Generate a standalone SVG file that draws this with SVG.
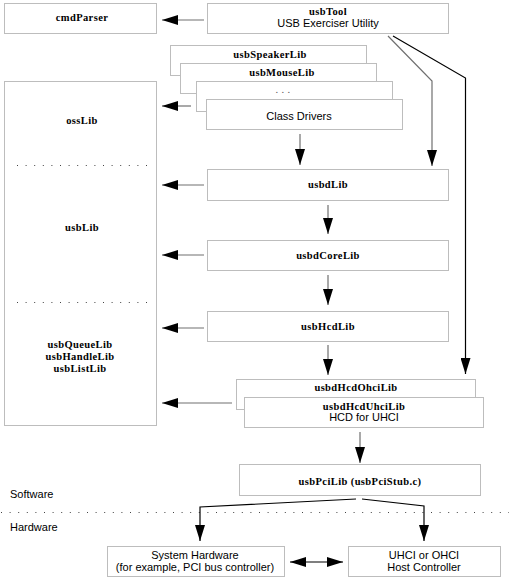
<svg xmlns="http://www.w3.org/2000/svg" width="509" height="584" viewBox="0 0 509 584">
<style>
.box{fill:#fff;stroke:#bdbdbd;stroke-width:1}
.b{font-family:"Liberation Serif",serif;font-weight:bold;font-size:10.5px;letter-spacing:0.4px;text-anchor:middle;fill:#000}
.s{font-family:"Liberation Sans",Arial,sans-serif;font-size:11px;text-anchor:middle;fill:#000}
.sl{font-family:"Liberation Sans",Arial,sans-serif;font-size:11px;fill:#000}
.c{fill:none;stroke:#707070;stroke-width:1.2}
.k{fill:none;stroke:#000;stroke-width:1.2}
.dot{fill:none;stroke:#444;stroke-width:1;stroke-dasharray:1 7.6}
</style>
<defs>
<marker id="ah" markerUnits="userSpaceOnUse" markerWidth="16" markerHeight="10" refX="16" refY="5" orient="auto-start-reverse" viewBox="0 0 16 10">
<path d="M0,0 L16,5 L0,10 z" fill="#000"/>
</marker>
</defs>
<rect width="509" height="584" fill="#fff"/>

<g id="cmdParser"><rect class="box" x="4.5" y="3.5" width="152" height="30"/><text class="b" x="82" y="21">cmdParser</text></g>
<g id="usbTool"><rect class="box" x="207.5" y="3.5" width="241" height="30"/><text class="b" x="328" y="15">usbTool</text><text class="s" x="328" y="27">USB Exerciser Utility</text></g>

<g id="leftLibs"><rect class="box" x="4.5" y="81.5" width="152" height="344"/>
<text class="b" x="82" y="124">ossLib</text>
<line class="dot" x1="17" y1="165.5" x2="148" y2="165.5"/>
<text class="b" x="82" y="231">usbLib</text>
<line class="dot" x1="17" y1="302.5" x2="148" y2="302.5"/>
<text class="b" x="80" y="348">usbQueueLib</text>
<text class="b" x="80" y="360">usbHandleLib</text>
<text class="b" x="80" y="372">usbListLib</text>
</g>

<g id="usbSpeakerLib"><rect class="box" x="170.5" y="45.5" width="196" height="30"/><text class="b" x="270" y="58">usbSpeakerLib</text></g>
<g id="usbMouseLib"><rect class="box" x="180.5" y="63.5" width="196" height="30"/><text class="b" x="282" y="76">usbMouseLib</text></g>
<g id="dotsLib"><rect class="box" x="196.5" y="81.5" width="196" height="30"/><text class="b" x="283" y="93" style="font-weight:normal;fill:#555">. . .</text></g>
<g id="classDrivers"><rect class="box" x="206.5" y="99.5" width="196" height="30"/><text class="s" x="299" y="120">Class Drivers</text></g>

<g id="usbdLib"><rect class="box" x="207.5" y="169.5" width="241" height="31"/><text class="b" x="328" y="188">usbdLib</text></g>
<g id="usbdCoreLib"><rect class="box" x="207.5" y="240.5" width="241" height="30"/><text class="b" x="328" y="259">usbdCoreLib</text></g>
<g id="usbHcdLib"><rect class="box" x="207.5" y="311.5" width="241" height="30"/><text class="b" x="328" y="330">usbHcdLib</text></g>
<g id="usbdHcdOhciLib"><rect class="box" x="236.5" y="379.5" width="239" height="30"/><text class="b" x="356" y="391">usbdHcdOhciLib</text></g>
<g id="usbdHcdUhciLib"><rect class="box" x="244.5" y="397.5" width="239" height="30"/><text class="b" x="364" y="410">usbdHcdUhciLib</text><text class="s" x="364" y="421">HCD for UHCI</text></g>
<g id="usbPciLib"><rect class="box" x="239.5" y="464.5" width="241" height="31"/><text class="b" x="360" y="485">usbPciLib (usbPciStub.c)</text></g>

<g id="labels"><text class="sl" x="10" y="498">Software</text><line class="dot" x1="1" y1="512.5" x2="509" y2="512.5"/><text class="sl" x="10" y="531">Hardware</text></g>

<g id="systemHardware"><rect class="box" x="107.5" y="546.5" width="177" height="30"/><text class="s" x="195" y="559">System Hardware</text><text class="s" x="195" y="571">(for example, PCI bus controller)</text></g>
<g id="hostController"><rect class="box" x="348.5" y="546.5" width="152" height="30"/><text class="s" x="424" y="559">UHCI or OHCI</text><text class="s" x="424" y="571">Host Controller</text></g>

<g id="connectors">
<line class="c" x1="204" y1="20" x2="162" y2="20" marker-end="url(#ah)"/>
<line class="c" x1="191" y1="106" x2="162" y2="106" marker-end="url(#ah)"/>
<line class="c" x1="204" y1="185" x2="162" y2="185" marker-end="url(#ah)"/>
<line class="c" x1="204" y1="255" x2="162" y2="255" marker-end="url(#ah)"/>
<line class="c" x1="204" y1="328" x2="162" y2="328" marker-end="url(#ah)"/>
<line class="c" x1="232" y1="403" x2="162" y2="403" marker-end="url(#ah)"/>
<line class="c" x1="300" y1="134" x2="300" y2="165" marker-end="url(#ah)"/>
<polyline class="c" points="388,36 432,81 432,166" marker-end="url(#ah)"/>
<polyline class="k" points="393,36 465.5,78 465.5,374" marker-end="url(#ah)"/>
<line class="c" x1="328" y1="205" x2="328" y2="234" marker-end="url(#ah)"/>
<line class="c" x1="328" y1="275" x2="328" y2="305" marker-end="url(#ah)"/>
<line class="c" x1="328" y1="345" x2="328" y2="375" marker-end="url(#ah)"/>
<line class="c" x1="360" y1="432" x2="360" y2="463" marker-end="url(#ah)"/>
<polyline class="k" points="356,499 200,507 200,541" marker-end="url(#ah)"/>
<polyline class="k" points="362,499 424,506 424,541" marker-end="url(#ah)"/>
<line class="k" x1="290" y1="562" x2="343" y2="562" marker-start="url(#ah)" marker-end="url(#ah)"/>
</g>
</svg>
